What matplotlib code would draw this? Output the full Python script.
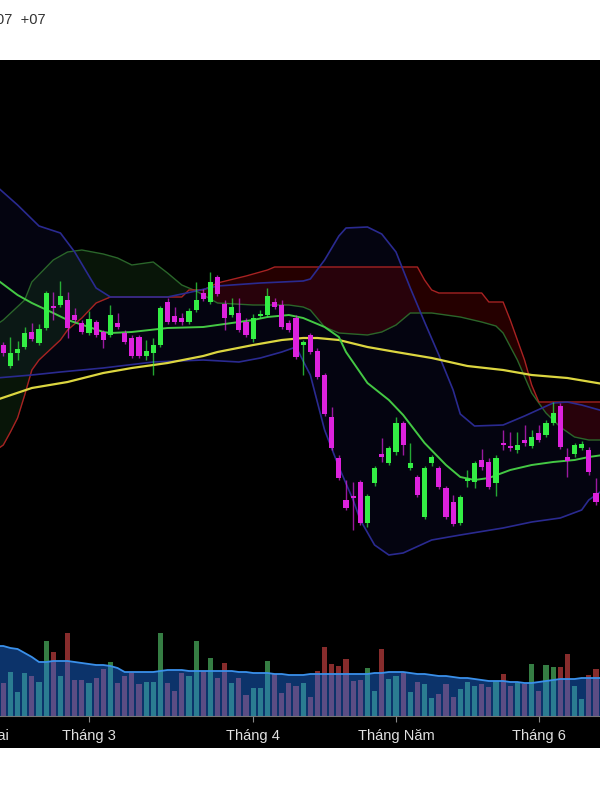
import numpy as np
import matplotlib.pyplot as plt
from matplotlib.patches import Rectangle

plt.rcParams['font.family'] = ['Liberation Sans', 'DejaVu Sans']

# daily candles (price, thousand VND), one per trading day
opens = [65.5, 63.4, 64.7, 65.3, 66.8, 65.7, 67.2, 69.4, 69.5, 70.0,
         68.5, 67.7, 66.7, 67.8, 66.8, 66.5, 67.7, 66.7, 66.2, 66.3,
         64.4, 64.7, 65.5, 69.8, 68.4, 68.2, 67.8, 69.0, 70.7, 69.8,
         72.3, 69.6, 68.5, 68.7, 67.8, 66.1, 68.4, 68.5, 69.8, 69.5,
         67.7, 68.2, 65.5, 66.5, 64.9, 62.5, 58.3, 54.2, 50.0, 50.4,
         51.8, 47.7, 51.7, 54.6, 53.7, 54.8, 57.7, 53.2, 52.3, 48.3,
         53.7, 53.2, 51.2, 49.8, 47.7, 51.9, 51.8, 54.0, 53.8, 51.7,
         55.7, 55.4, 55.0, 56.0, 55.4, 56.7, 56.5, 57.7, 59.4, 54.3,
         54.6, 55.2, 55.0, 50.7]
highs = [65.8, 66.3, 65.9, 67.3, 67.7, 67.6, 70.9, 70.8, 71.9, 70.8,
         69.2, 68.0, 68.9, 68.0, 67.0, 69.5, 68.7, 67.0, 66.5, 66.5,
         66.0, 66.2, 69.4, 70.2, 69.3, 68.7, 69.2, 71.8, 71.1, 72.8,
         72.5, 70.0, 70.2, 70.2, 68.2, 68.6, 69.0, 71.2, 70.2, 70.0,
         68.0, 68.5, 66.0, 66.7, 65.2, 62.7, 59.3, 54.5, 52.0, 51.8,
         52.0, 50.6, 53.4, 56.2, 55.4, 58.3, 57.9, 55.7, 52.5, 53.4,
         54.5, 53.4, 51.4, 50.5, 50.5, 53.0, 53.9, 55.1, 54.2, 54.5,
         57.0, 56.8, 56.8, 57.5, 57.0, 57.5, 58.0, 59.8, 59.7, 55.2,
         55.7, 55.9, 55.3, 52.2]
lows = [64.4, 63.2, 64.0, 65.1, 65.9, 65.5, 67.0, 68.0, 69.3, 66.2,
        67.8, 66.6, 66.5, 66.3, 65.2, 66.3, 67.1, 65.6, 64.2, 64.2,
        64.0, 62.5, 65.3, 67.6, 67.6, 67.5, 67.6, 68.8, 69.9, 69.6,
        70.4, 67.0, 68.3, 66.8, 66.3, 65.8, 68.2, 68.3, 69.1, 67.1,
        66.8, 64.1, 62.5, 64.6, 62.1, 58.4, 55.0, 52.0, 49.0, 47.0,
        47.5, 47.3, 51.4, 53.8, 53.5, 54.5, 54.5, 53.0, 50.3, 48.1,
        53.4, 51.1, 48.1, 47.4, 47.5, 51.3, 51.2, 53.0, 51.1, 50.4,
        55.0, 54.9, 54.7, 55.4, 55.2, 55.8, 56.3, 57.5, 55.1, 52.3,
        54.3, 55.0, 52.5, 49.5]
closes = [64.7, 64.7, 65.1, 66.7, 66.1, 67.1, 70.7, 69.2, 70.4, 67.2,
          68.0, 66.8, 68.1, 66.5, 66.0, 68.5, 67.3, 65.8, 64.4, 64.4,
          64.9, 65.5, 69.2, 67.8, 67.8, 67.8, 68.9, 70.0, 70.1, 71.8,
          70.6, 68.2, 69.3, 67.0, 66.5, 68.2, 68.6, 70.4, 69.3, 67.3,
          67.0, 64.3, 65.8, 64.8, 62.3, 58.6, 55.2, 52.2, 49.2, 50.2,
          47.7, 50.4, 53.2, 54.3, 55.2, 57.7, 55.5, 53.7, 50.5, 53.2,
          54.3, 51.3, 48.3, 47.6, 50.3, 52.1, 53.7, 53.3, 51.3, 54.2,
          55.5, 55.2, 55.5, 55.7, 56.3, 56.0, 57.7, 58.7, 55.3, 53.9,
          55.5, 55.6, 52.8, 49.8]

# volume (million shares) and its moving average
volume = [3.3, 4.4, 2.4, 4.3, 4.0, 3.4, 7.5, 6.4, 4.0, 8.3,
          3.6, 3.6, 3.3, 3.8, 4.7, 5.4, 3.3, 4.0, 4.3, 3.2,
          3.4, 3.4, 8.3, 3.3, 2.5, 4.3, 4.0, 7.5, 4.5, 5.8,
          3.8, 5.3, 3.3, 3.8, 2.1, 2.8, 2.8, 5.5, 4.2, 2.3,
          3.3, 3.0, 3.3, 1.9, 4.5, 6.9, 5.2, 5.0, 5.7, 3.5,
          3.6, 4.8, 2.5, 6.7, 3.7, 4.0, 4.3, 2.4, 3.4, 3.2,
          1.8, 2.2, 3.2, 1.9, 2.7, 3.4, 3.0, 3.2, 2.9, 3.5,
          4.2, 3.0, 3.3, 3.2, 5.2, 2.5, 5.1, 4.9, 4.9, 6.2,
          3.0, 1.7, 4.1, 4.7]
vol_ma = [7.0, 6.8, 6.7, 6.3, 5.9, 5.4, 5.4, 5.5, 5.5, 5.5,
          5.4, 5.3, 5.2, 5.1, 5.1, 5.0, 4.8, 4.4, 4.4, 4.4,
          4.4, 4.4, 4.5, 4.6, 4.6, 4.6, 4.5, 4.5, 4.5, 4.5,
          4.5, 4.5, 4.5, 4.4, 4.4, 4.3, 4.3, 4.3, 4.2, 4.2,
          4.1, 4.1, 4.1, 4.2, 4.2, 4.2, 4.2, 4.2, 4.2, 4.2,
          4.2, 4.2, 4.3, 4.3, 4.4, 4.4, 4.4, 4.3, 4.2, 4.2,
          4.1, 4.0, 4.0, 3.9, 3.8, 3.8, 3.7, 3.6, 3.5, 3.5,
          3.5, 3.4, 3.4, 3.3, 3.3, 3.4, 3.5, 3.6, 3.7, 3.7,
          3.7, 3.8, 3.8, 3.8]

# indicator lines: (bar index, price)
bb_up_day = [-1, 2, 5, 8, 10, 11, 13, 15, 23, 27, 30, 36, 42, 43, 45, 47, 48, 51, 53, 55,
             57, 59, 61, 63, 64, 66, 70, 73, 77, 79, 81, 84]
bb_up = [81.4, 79.5, 77.4, 76.7, 74.8, 73.6, 71.2, 70.3, 70.3, 70.9, 71.4, 71.7, 71.9, 72.1,
         74.0, 76.4, 77.2, 77.3, 76.6, 74.8, 71.2, 67.8, 64.5, 61.0, 58.6, 57.4, 57.5, 58.4,
         59.7, 59.8, 59.5, 58.9]
bb_lo_day = [-1, 4, 8, 14, 21, 28, 33, 36, 39, 41, 43, 45, 47, 49, 50, 52, 54, 56, 60, 64,
             70, 74, 78, 81, 82, 84]
bb_lo = [62.2, 62.5, 62.8, 63.2, 63.8, 64.0, 63.8, 64.2, 64.8, 65.3, 62.5, 57.0, 53.3, 50.0,
         48.0, 45.5, 44.5, 44.7, 46.0, 46.5, 47.2, 47.8, 48.2, 49.0, 50.0, 51.0]
bb_mid_day = [-1, 2, 4, 7, 9, 12, 14, 15, 18, 23, 28, 30, 35, 37, 40, 42, 45, 47, 48, 51,
              54, 56, 59, 62, 64, 66, 68, 71, 74, 77, 80, 82, 84]
bb_mid = [72.1, 70.5, 69.7, 68.7, 68.0, 67.3, 66.8, 66.7, 66.8, 67.2, 67.3, 67.5, 68.0, 68.3,
          68.5, 68.2, 67.3, 66.3, 64.8, 61.7, 60.0, 58.5, 55.7, 53.5, 52.3, 52.0, 52.2, 53.0,
          53.5, 53.8, 54.0, 54.3, 54.5]
ma_long_day = [-1, 4, 9, 14, 18, 23, 28, 30, 35, 39, 42, 44, 47, 51, 55, 60, 65, 70, 74, 79, 84]
ma_long = [60.0, 61.2, 61.8, 62.7, 63.2, 63.7, 64.4, 64.8, 65.5, 66.0, 66.2, 66.2, 66.0, 65.3,
           64.8, 64.2, 63.4, 63.0, 62.5, 62.2, 61.6]
span_a_day = [-1, 0, 3, 4, 7, 9, 11, 14, 16, 18, 21, 23, 25, 27, 30, 35, 40, 42, 43, 45, 47,
              51, 53, 55, 57, 60, 64, 67, 69, 70, 72, 74, 76, 78, 80, 82, 84]
span_a = [67.5, 68.0, 70.0, 71.8, 74.0, 74.8, 75.0, 74.6, 74.2, 73.5, 73.8, 72.7, 71.5, 70.9,
          69.7, 69.5, 69.5, 69.3, 69.0, 67.3, 66.7, 66.5, 66.8, 67.5, 68.7, 68.7, 68.3, 67.8,
          67.4, 66.7, 64.0, 60.7, 58.7, 57.3, 56.3, 56.0, 56.0]
span_b_day = [-1, 0, 1, 2, 3, 4, 5, 8, 9, 11, 13, 15, 25, 26, 28, 30, 34, 37, 38, 58, 59, 60,
              61, 67, 68, 70, 71, 73, 74, 75, 84]
span_b = [55.0, 55.5, 56.8, 58.2, 60.5, 63.0, 64.0, 66.0, 67.0, 68.2, 69.7, 70.3, 70.3, 71.0,
          71.0, 71.7, 72.4, 73.0, 73.3, 73.3, 72.0, 71.0, 70.7, 70.7, 69.8, 69.8, 68.0, 64.0,
          61.5, 59.8, 59.8]

month_day = [-4, 12, 35, 55, 75]
month_labels = ['Tháng Hai', 'Tháng 3', 'Tháng 4', 'Tháng Năm', 'Tháng 6']

o = np.array(opens)
c = np.array(closes)
day = np.arange(len(o))
up = c >= o

fig = plt.figure(figsize=(6, 8), dpi=100)
fig.patch.set_facecolor('white')
fig.add_artist(Rectangle((0, 0.065), 1, 0.86, transform=fig.transFigure,
                         facecolor='black', edgecolor='none', zorder=0))
fig.text(-0.007, 0.975, '07  +07', color='#333333', fontsize=10.5, va='center', ha='left')

ax = fig.add_axes([0, 0.105, 1, 0.82])
ax.set_facecolor('black')

grid = np.linspace(-1, 84, 1200)
up_i = np.interp(grid, bb_up_day, bb_up)
lo_i = np.interp(grid, bb_lo_day, bb_lo)
ax.fill_between(grid, lo_i, up_i, color='#1a1a66', alpha=0.16, lw=0, zorder=1)
a_i = np.interp(grid, span_a_day, span_a)
b_i = np.interp(grid, span_b_day, span_b)
ax.fill_between(grid, a_i, b_i, where=a_i >= b_i, interpolate=True,
                color='#2a6a2a', alpha=0.2, lw=0, zorder=1)
ax.fill_between(grid, a_i, b_i, where=a_i < b_i, interpolate=True,
                color='#8b0000', alpha=0.27, lw=0, zorder=1)

ax.plot(span_a_day, span_a, color='#2a662a', lw=1, zorder=2)
ax.plot(span_b_day, span_b, color='#a82222', lw=1, zorder=2)
ax.plot(bb_up_day, bb_up, color='#2a2a90', lw=1.2, zorder=2)
ax.plot(bb_lo_day, bb_lo, color='#2a2a90', lw=1.2, zorder=2)
ax.plot(ma_long_day, ma_long, color='#dcd640', lw=1.6, zorder=2)
ax.plot(bb_mid_day, bb_mid, color='#44c844', lw=1.4, zorder=2)

colors = np.where(up, '#33ee44', '#dd22dd')
ax.vlines(day, lows, highs, colors=colors, lw=1, alpha=0.7, zorder=3)
ax.bar(day, np.maximum(np.abs(c - o), 0.2), bottom=np.minimum(o, c), width=0.72,
       color=colors, zorder=4)

ax.set_xlim(-0.46, 83.57)
ax.set_ylim(28.4, 94.0)
ax.set_yticks([])
ax.set_xticks(month_day[1:])
ax.set_xticklabels([])
ax.tick_params(axis='x', colors='#888888', length=4)
for side in ['top', 'left', 'right']:
    ax.spines[side].set_visible(False)
ax.spines['bottom'].set_color('#777777')
for d, lab in zip(month_day, month_labels):
    ax.text(d, -0.031, lab, transform=ax.get_xaxis_transform(), ha='center', va='center',
            color='#e0e0e0', fontsize=10.5, clip_on=False)

ax2 = ax.twinx()
vcol = np.where(up, '#3f9450', '#a03434')
ax2.bar(day, volume, width=0.72, color=vcol, alpha=0.85, zorder=1)
ma_x = np.concatenate([[-0.46], day, [83.57]])
ma_y = np.concatenate([[vol_ma[0]], vol_ma, [vol_ma[-1]]])
ax2.fill_between(ma_x, 0, ma_y, color='#1e7cff', alpha=0.42, lw=0, zorder=2)
ax2.plot(ma_x, ma_y, color='#3a90ea', lw=1.3, zorder=3)
ax2.set_ylim(0, 65.6)
ax2.set_yticks([])
for side in ax2.spines:
    ax2.spines[side].set_visible(False)

plt.savefig('out.png', dpi=100, facecolor='white')
